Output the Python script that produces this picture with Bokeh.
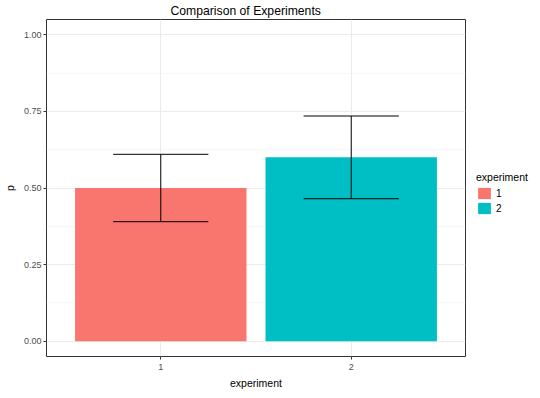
from bokeh.plotting import figure
from bokeh.models import (FactorRange, Range1d, FixedTicker, Legend, LegendItem,
                          ColumnDataSource, Title)
from bokeh.transform import dodge
from bokeh.embed import file_html
from bokeh.resources import INLINE

# ---- data ----
experiment = ["1", "2"]
p_values = [0.50, 0.60]
lower = [0.39, 0.465]
upper = [0.61, 0.735]
colors = ["#F8766D", "#00BFC4"]
y_ticks = [0.0, 0.25, 0.5, 0.75, 1.0]
y_tick_labels = ["0.00", "0.25", "0.50", "0.75", "1.00"]
y_minor = [0.125, 0.375, 0.625, 0.875]

src = ColumnDataSource(dict(experiment=experiment, p=p_values, lower=lower,
                            upper=upper, color=colors))

FONT = "Liberation Sans"

p = figure(x_range=FactorRange(factors=experiment, range_padding=0.1,
                               range_padding_units="absolute"),
           y_range=Range1d(-0.05, 1.05),
           frame_width=419, frame_height=337,
           min_border_left=35, min_border_right=70,
           min_border_top=16, min_border_bottom=29,
           output_backend="svg", toolbar_location=None,
           background_fill_color="white", border_fill_color="white")

p.title = Title(text="Comparison of Experiments", align="left",
                text_font=FONT, text_font_size="12.2px",
                text_font_style="normal", text_color="black",
                standoff=3, offset=124)

r = p.vbar(x="experiment", top="p", bottom=0, width=0.9, source=src,
           fill_color="color", line_color=None)

p.segment(x0="experiment", y0="lower", x1="experiment", y1="upper",
          source=src, line_color="black", line_width=1)
for col in ["upper", "lower"]:
    p.segment(x0=dodge("experiment", -0.25, range=p.x_range), y0=col,
              x1=dodge("experiment", 0.25, range=p.x_range), y1=col,
              source=src, line_color="black", line_width=1)

# axes
p.yaxis.ticker = FixedTicker(ticks=y_ticks, minor_ticks=y_minor)
p.yaxis.major_label_overrides = {t: l for t, l in zip(y_ticks, y_tick_labels)}
for ax in (p.xaxis[0], p.yaxis[0]):
    ax.axis_line_color = None
    ax.major_tick_line_color = "#333333"
    ax.major_tick_out = 3
    ax.major_tick_in = 0
    ax.minor_tick_out = 0
    ax.minor_tick_in = 0
    ax.major_label_text_font = FONT
    ax.major_label_text_font_size = "9px"
    ax.major_label_text_color = "#4D4D4D"
    ax.major_label_standoff = 2
    ax.axis_label_text_font = FONT
    ax.axis_label_text_font_size = "10.5px"
    ax.axis_label_text_font_style = "normal"
    ax.axis_label_text_color = "black"
p.xaxis.axis_label = "experiment"
p.yaxis.axis_label = "p"
p.xaxis.major_label_standoff = 4
p.xaxis.axis_label_standoff = 4
p.yaxis.axis_label_standoff = 5

# grid
p.xgrid.grid_line_color = "#EBEBEB"
p.ygrid.grid_line_color = "#EBEBEB"
p.ygrid.minor_grid_line_color = "#F2F2F2"
p.ygrid.minor_grid_line_width = 0.6

p.outline_line_color = "#333333"
p.outline_line_width = 1

legend = Legend(items=[LegendItem(label=experiment[i], renderers=[r], index=i)
                       for i in range(len(experiment))],
                title="experiment", location=(11, 141),
                title_text_font=FONT, title_text_font_size="10.5px",
                title_text_font_style="normal", title_text_color="black",
                title_standoff=3,
                label_text_font=FONT, label_text_font_size="10px",
                label_text_color="black",
                glyph_width=16, glyph_height=14, label_height=14,
                label_standoff=4, spacing=1, padding=0, margin=0,
                border_line_color=None, background_fill_alpha=0)
p.add_layout(legend, "right")

open("out.html", "w").write(file_html(p, INLINE))
